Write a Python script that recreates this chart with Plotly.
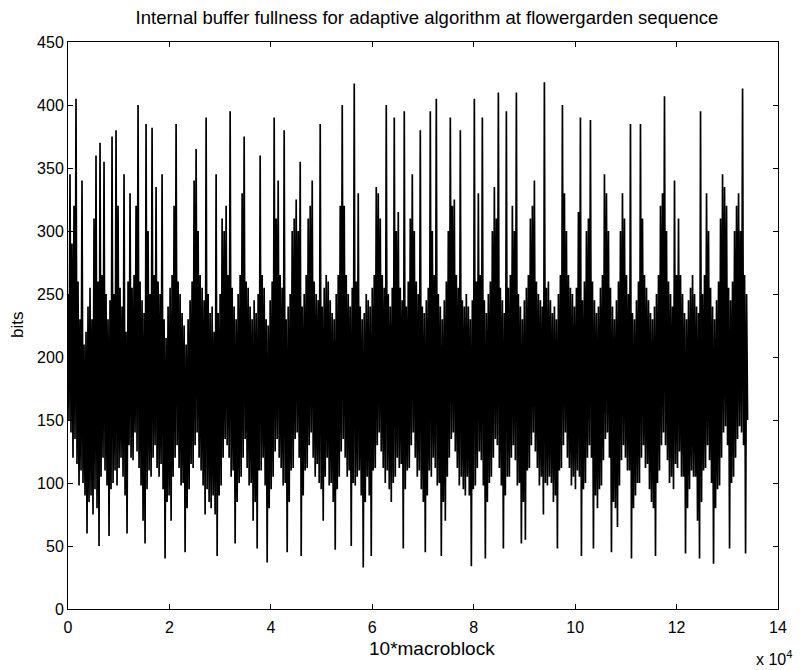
import numpy as np
import plotly.graph_objects as go

# Buffer fullness (bits)
# (alternating local highs and lows, ~197 samples per value).
buffer_bits = [
    250,150, 345,140, 290,120, 320,135, 405,115, 260,98, 230,110, 340,100, 210,90, 220,60,
    240,85, 255,90, 230,75, 310,95, 360,80, 260,50, 370,105, 265,120, 355,110, 250,98,
    230,58, 245,95, 375,100, 250,110, 380,98, 320,112, 255,120, 240,105, 345,90, 220,60,
    260,130, 330,120, 255,118, 265,140, 320,125, 400,112, 260,98, 245,70, 235,52, 385,95,
    300,110, 250,105, 382,120, 265,130, 335,112, 260,105, 250,115, 345,95, 230,40, 215,85,
    240,90, 255,70, 265,105, 320,120, 385,130, 260,112, 250,98, 235,100, 225,45, 210,80,
    230,95, 245,115, 260,112, 340,130, 365,140, 300,120, 265,110, 255,98, 245,75, 390,95,
    250,85, 235,80, 240,90, 220,75, 345,42, 235,90, 250,98, 310,120, 300,135, 320,130,
    265,120, 395,105, 255,110, 240,52, 230,85, 250,100, 265,105, 330,120, 375,135, 260,112,
    255,98, 240,100, 230,70, 245,85, 235,48, 250,110, 360,110, 265,120, 255,98, 230,37,
    225,80, 245,95, 260,105, 390,125, 310,135, 340,120, 265,112, 255,98, 380,100, 230,45,
    240,85, 250,110, 300,112, 310,135, 325,140, 300,120, 355,42, 240,90, 250,110, 265,112,
    310,130, 320,140, 340,120, 260,105, 250,115, 245,100, 385,95, 240,70, 255,105, 265,120,
    260,98, 245,100, 235,85, 230,47, 250,95, 265,105, 320,125, 400,135, 320,120, 265,105,
    250,110, 240,50, 255,100, 417,98, 260,105, 330,110, 240,90, 230,33, 235,85, 250,105,
    245,90, 240,42, 255,110, 265,112, 335,130, 330,140, 310,125, 265,112, 255,100, 400,110,
    250,95, 240,85, 255,100, 390,105, 300,120, 315,112, 255,115, 245,48, 395,95, 240,110,
    260,112, 310,130, 345,140, 300,120, 260,105, 250,110, 380,95, 240,85, 235,45, 245,90,
    255,110, 395,105, 300,120, 265,112, 405,98, 250,100, 240,42, 230,85, 245,70, 260,105,
    300,120, 390,135, 320,140, 325,125, 265,112, 255,98, 380,105, 245,95, 240,90, 250,105,
    240,90, 230,34, 245,95, 405,98, 260,112, 330,125, 265,118, 390,98, 245,40, 235,85,
    250,100, 260,105, 300,120, 335,135, 310,130, 410,112, 255,98, 245,48, 235,90, 395,105,
    255,105, 265,120, 320,130, 300,118, 410,98, 250,100, 240,52, 230,85, 245,55, 255,110,
    265,112, 310,130, 320,140, 340,125, 260,112, 250,98, 245,105, 240,75, 418,100, 255,98,
    260,105, 245,100, 235,85, 240,90, 230,48, 250,110, 265,112, 400,130, 330,140, 300,120,
    265,112, 255,98, 250,105, 240,95, 255,110, 315,105, 390,42, 245,95, 260,100, 300,120,
    310,130, 388,120, 260,48, 245,90, 235,80, 240,95, 255,98, 265,118, 345,135, 330,140,
    300,120, 255,45, 240,85, 230,80, 245,65, 260,98, 300,118, 330,130, 310,120, 265,110,
    250,110, 385,40, 235,80, 230,90, 245,100, 260,100, 385,120, 310,130, 265,112, 255,115,
    245,95, 235,85, 230,80, 240,42, 250,100, 265,110, 320,130, 330,140, 407,130, 300,118,
    260,100, 250,105, 240,95, 340,115, 265,112, 310,125, 265,105, 250,105, 235,44, 230,80,
    245,95, 255,110, 265,105, 250,105, 240,70, 235,40, 395,85, 250,110, 265,112, 330,130,
    300,118, 255,100, 240,36, 230,80, 245,95, 260,98, 310,120, 345,140, 335,145, 320,130,
    255,48, 245,100, 260,105, 300,120, 320,135, 330,145, 300,140, 413,130, 265,44, 250,150,
]

last_macroblock_x10 = 134000
x_tick_vals = [0, 20000, 40000, 60000, 80000, 100000, 120000, 140000]
x_tick_text = ["0", "2", "4", "6", "8", "10", "12", "14"]
y_tick_vals = [0, 50, 100, 150, 200, 250, 300, 350, 400, 450]

x = np.linspace(0, last_macroblock_x10, len(buffer_bits))

fig = go.Figure()
fig.add_trace(go.Scatter(
    x=x, y=buffer_bits, mode="lines",
    line=dict(color="black", width=1.7, simplify=False),
    showlegend=False, hoverinfo="skip",
))

font_family = "Liberation Sans, Arial, sans-serif"
axis_common = dict(
    showline=True, linecolor="black", linewidth=1, mirror="ticks",
    ticks="inside", ticklen=5, tickcolor="black", tickwidth=1,
    showgrid=False, zeroline=False,
    tickfont=dict(family=font_family, size=16, color="black"),
)

# the page body has an 8px margin, so the figure is 8px smaller and margins shifted
fig.update_layout(
    width=798, height=662,
    paper_bgcolor="white", plot_bgcolor="white",
    margin=dict(l=60, r=28, t=34, b=61),
    title=dict(
        text="Internal buffer fullness for adaptive algorithm at flowergarden sequence",
        x=0.5056, xref="paper", xanchor="center",
        y=0.985, yref="container", yanchor="middle",
        font=dict(family=font_family, size=18.5, color="black"),
    ),
    xaxis=dict(range=[0, 140000], tickvals=x_tick_vals, ticktext=x_tick_text,
               ticklabelstandoff=4, **axis_common),
    yaxis=dict(range=[0, 450], tickvals=y_tick_vals, **axis_common),
    annotations=[
        dict(text="10*macroblock", xref="paper", yref="paper",
             x=0.5127, y=-0.0688, xanchor="center", yanchor="middle", showarrow=False,
             font=dict(family=font_family, size=19, color="black")),
        dict(text="bits", xref="paper", yref="paper", textangle=-90,
             x=-0.0704, y=0.501, xanchor="center", yanchor="middle", showarrow=False,
             font=dict(family=font_family, size=17, color="black")),
        dict(text="x 10<sup>4</sup>", xref="paper", yref="paper",
             x=1.0225, y=-0.0864, xanchor="right", yanchor="middle", showarrow=False,
             font=dict(family=font_family, size=16, color="black")),
    ],
)

fig.write_html("out.html")
